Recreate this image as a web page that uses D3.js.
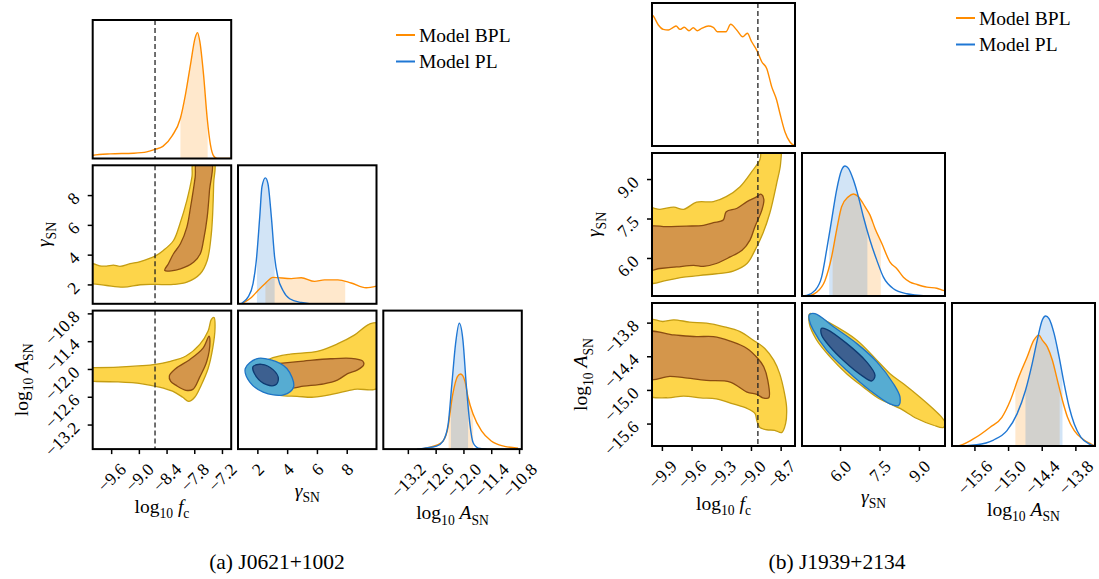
<!DOCTYPE html>
<html><head><meta charset="utf-8">
<script src="https://cdn.jsdelivr.net/npm/d3@7"></script>
<style>body{margin:0;background:#fff}</style>
</head><body><svg id="c" width="1099" height="579" xmlns="http://www.w3.org/2000/svg"></svg>
<script>
// ===================== DATA : J0621+1002 =====================
const A_domFc = [-10.0, -7.0];
const A_domGamma = [0.7, 10.0];
const A_domAmp = [-13.73, -10.74];
const A_ticksFc = [-9.6, -9.0, -8.4, -7.8, -7.2];
const A_ticksGamma = [2, 4, 6, 8];
const A_ticksAmp = [-13.2, -12.6, -12.0, -11.4, -10.8];
const A_fcTrue = -8.65;
// 1D marginals [value, relative density]
const A_fc_BPL = [[-10.0,0.025],[-9.99,0.026],[-9.62,0.037],[-9.12,0.042],[-8.83,0.053],[-8.65,0.072],[-8.48,0.096],[-8.28,0.18],[-8.10,0.32],[-7.99,0.51],[-7.88,0.75],[-7.78,0.96],[-7.73,1.0],[-7.68,0.93],[-7.60,0.67],[-7.52,0.32],[-7.45,0.11],[-7.38,0.02],[-7.30,0.0],[-7.0,0.0]];
const A_fc_BPL_band = [-8.10, -7.51];
const A_gamma_PL = [[0.9,0.0],[1.04,0.013],[1.37,0.053],[1.71,0.16],[1.93,0.345],[2.16,0.69],[2.31,0.93],[2.54,1.0],[2.71,0.955],[2.94,0.69],[3.16,0.37],[3.38,0.21],[3.72,0.106],[4.17,0.04],[4.95,0.01],[5.5,0.0]];
const A_gamma_PL_band = [1.97, 3.16];
const A_gamma_BPL = [[1.04,0.008],[1.6,0.05],[2.04,0.106],[2.51,0.16],[3.05,0.21],[4.28,0.2],[4.95,0.207],[5.84,0.178],[6.51,0.19],[7.41,0.19],[8.3,0.165],[9.31,0.127],[10.0,0.14]];
const A_gamma_BPL_band = [2.54, 7.9];
const A_amp_PL = [[-13.0,0],[-12.84,0.008],[-12.58,0.024],[-12.44,0.064],[-12.33,0.197],[-12.25,0.516],[-12.17,0.836],[-12.09,1.0],[-12.01,0.862],[-11.94,0.516],[-11.86,0.197],[-11.79,0.05],[-11.68,0.008],[-11.5,0]];
const A_amp_PL_band = [-12.27, -11.90];
const A_amp_BPL = [[-13.0,0],[-12.84,0.006],[-12.48,0.05],[-12.35,0.144],[-12.23,0.437],[-12.13,0.575],[-12.06,0.596],[-11.97,0.543],[-11.90,0.41],[-11.79,0.277],[-11.61,0.144],[-11.40,0.064],[-11.11,0.022],[-10.82,0.008]];
const A_amp_BPL_band = [-12.32, -11.79];
// 2D credible contours [x value, y value]
const A_fcGamma_BPL_2s = [[-10.05,3.39],[-9.99,3.39],[-9.85,3.25],[-9.70,3.23],[-9.55,3.3],[-9.41,3.21],[-9.19,3.39],[-8.97,3.54],[-8.65,3.90],[-8.47,4.28],[-8.25,4.95],[-8.11,6.08],[-7.96,7.65],[-7.85,9.22],[-7.81,10.3],[-7.38,10.3],[-7.38,8.77],[-7.43,5.41],[-7.52,3.61],[-7.67,2.72],[-7.96,2.15],[-8.25,2.0],[-8.65,2.0],[-8.97,1.98],[-9.33,1.82],[-9.70,1.93],[-9.99,2.04],[-10.05,2.04]];
const A_fcGamma_BPL_1s = [[-8.44,2.94],[-8.10,3.05],[-7.81,3.50],[-7.67,4.06],[-7.60,4.96],[-7.52,6.52],[-7.47,8.32],[-7.43,10.3],[-7.74,10.3],[-7.78,9.21],[-7.88,7.2],[-7.96,5.85],[-8.10,4.73],[-8.25,4.06],[-8.36,3.39]];
const A_fcAmp_BPL_2s = [[-10.05,-11.97],[-9.97,-11.97],[-9.45,-11.96],[-8.93,-11.93],[-8.64,-11.90],[-8.34,-11.84],[-7.98,-11.72],[-7.68,-11.47],[-7.50,-11.18],[-7.43,-10.93],[-7.37,-10.89],[-7.35,-11.11],[-7.40,-11.55],[-7.50,-11.99],[-7.65,-12.35],[-7.79,-12.61],[-7.92,-12.70],[-8.05,-12.61],[-8.27,-12.48],[-8.56,-12.39],[-8.93,-12.32],[-9.45,-12.28],[-9.97,-12.27],[-10.05,-12.27]];
const A_fcAmp_BPL_1s = [[-8.34,-12.15],[-8.20,-11.99],[-7.90,-11.80],[-7.61,-11.55],[-7.48,-11.29],[-7.46,-11.40],[-7.53,-11.84],[-7.68,-12.17],[-7.83,-12.44],[-7.98,-12.46],[-8.20,-12.35],[-8.31,-12.27]];
const A_gammaAmp_BPL_2s = [[2.28,-11.91],[2.85,-11.78],[4.20,-11.68],[6.02,-11.62],[7.37,-11.46],[8.51,-11.27],[9.53,-11.03],[10.2,-11.02],[10.2,-12.39],[8.51,-12.44],[7.15,-12.54],[5.79,-12.61],[4.66,-12.59],[3.52,-12.57],[2.85,-12.50],[2.39,-12.28]];
const A_gammaAmp_BPL_1s = [[2.62,-11.91],[3.52,-11.88],[5.11,-11.83],[6.92,-11.78],[8.29,-11.77],[9.08,-11.83],[9.14,-11.91],[8.73,-12.02],[8.06,-12.10],[7.37,-12.24],[6.47,-12.32],[5.11,-12.37],[4.20,-12.41],[3.30,-12.28]];
const A_gammaAmp_PL_2s = [[1.19,-11.99],[1.94,-11.78],[2.85,-11.80],[3.98,-11.99],[4.43,-12.39],[3.75,-12.56],[2.39,-12.50],[1.48,-12.28]];
const A_gammaAmp_PL_1s = [[1.71,-11.95],[2.28,-11.90],[3.07,-12.02],[3.41,-12.21],[3.18,-12.35],[2.62,-12.34],[1.94,-12.17]];

// ===================== DATA : J1939+2134 =====================
const B_domFc = [-10.0, -8.555];
const B_domGamma = [4.555, 9.99];
const B_domAmp = [-16.0, -13.45];
const B_ticksFc = [-9.9, -9.6, -9.3, -9.0, -8.7];
const B_ticksGamma = [6.0, 7.5, 9.0];
const B_ticksAmp = [-15.6, -15.0, -14.4, -13.8];
const B_fcTrue = -8.93;
const B_fc_BPL = [[-10.0,1.01],[-9.987,1.0],[-9.936,0.931],[-9.886,0.897],[-9.835,0.892],[-9.785,0.913],[-9.757,0.923],[-9.717,0.897],[-9.674,0.913],[-9.626,0.887],[-9.583,0.910],[-9.542,0.887],[-9.498,0.905],[-9.431,0.923],[-9.381,0.913],[-9.340,0.879],[-9.252,0.879],[-9.205,0.936],[-9.144,0.892],[-9.083,0.840],[-9.037,0.867],[-8.993,0.802],[-8.942,0.738],[-8.891,0.648],[-8.841,0.597],[-8.790,0.455],[-8.740,0.352],[-8.707,0.250],[-8.656,0.108],[-8.606,0.031],[-8.565,0.005]];
const B_gamma_PL = [[4.555,0.0],[4.73,0.004],[5.05,0.043],[5.30,0.145],[5.49,0.352],[5.68,0.583],[5.87,0.815],[6.06,0.969],[6.19,1.0],[6.32,0.982],[6.51,0.892],[6.70,0.763],[6.89,0.608],[7.14,0.429],[7.40,0.274],[7.65,0.145],[8.03,0.056],[8.54,0.017],[9.17,0.002],[10.0,0]];
const B_gamma_PL_band = [5.59, 7.04];
const B_gamma_BPL = [[4.555,0],[4.79,0.002],[5.11,0.029],[5.43,0.12],[5.68,0.30],[5.87,0.506],[6.06,0.687],[6.32,0.764],[6.51,0.785],[6.70,0.764],[6.95,0.687],[7.14,0.622],[7.33,0.52],[7.59,0.404],[7.90,0.261],[8.16,0.21],[8.41,0.145],[8.66,0.107],[8.92,0.089],[9.30,0.068],[9.68,0.06],[9.93,0.043],[10.0,0.04]];
const B_gamma_BPL_band = [5.72, 7.55];
const B_amp_PL = [[-16.0,0],[-15.92,0],[-15.56,0.01],[-15.26,0.046],[-15.02,0.118],[-14.84,0.247],[-14.69,0.427],[-14.57,0.634],[-14.48,0.814],[-14.39,0.969],[-14.33,1.0],[-14.27,0.98],[-14.18,0.866],[-14.09,0.685],[-14.00,0.479],[-13.91,0.298],[-13.82,0.17],[-13.70,0.067],[-13.55,0.015],[-13.45,0]];
const B_amp_PL_band = [-14.69, -14.03];
const B_amp_BPL = [[-16.0,0],[-15.92,0],[-15.62,0.054],[-15.32,0.144],[-15.11,0.221],[-14.96,0.35],[-14.81,0.53],[-14.66,0.685],[-14.54,0.814],[-14.45,0.853],[-14.39,0.814],[-14.30,0.763],[-14.21,0.66],[-14.12,0.505],[-14.03,0.35],[-13.94,0.221],[-13.82,0.118],[-13.67,0.054],[-13.52,0.015],[-13.45,0]];
const B_amp_BPL_band = [-14.87, -14.08];
const B_fcGamma_BPL_2s = [[-10.05,7.89],[-9.92,7.85],[-9.78,7.93],[-9.68,7.85],[-9.55,8.12],[-9.38,8.14],[-9.25,8.33],[-9.11,8.71],[-8.99,9.29],[-8.91,9.73],[-8.88,10.3],[-8.71,10.3],[-8.70,9.61],[-8.74,8.84],[-8.81,7.70],[-8.88,6.93],[-8.96,6.29],[-9.04,5.79],[-9.18,5.50],[-9.35,5.40],[-9.51,5.34],[-9.68,5.27],[-9.85,5.15],[-10.05,5.08]];
const B_fcGamma_BPL_1s = [[-10.05,7.15],[-9.85,7.19],[-9.65,7.21],[-9.48,7.24],[-9.38,7.34],[-9.28,7.44],[-9.25,7.76],[-9.14,7.89],[-9.04,8.14],[-8.94,8.33],[-8.90,8.43],[-8.87,8.23],[-8.89,7.82],[-8.96,7.19],[-9.01,6.68],[-9.09,6.29],[-9.21,6.04],[-9.35,5.79],[-9.48,5.68],[-9.58,5.72],[-9.75,5.66],[-9.92,5.60],[-10.05,5.56]];
const B_fcAmp_BPL_2s = [[-10.05,-13.75],[-9.89,-13.78],[-9.78,-13.75],[-9.62,-13.79],[-9.45,-13.81],[-9.28,-13.87],[-9.11,-13.96],[-8.98,-14.11],[-8.86,-14.26],[-8.77,-14.47],[-8.71,-14.71],[-8.66,-15.07],[-8.64,-15.31],[-8.65,-15.60],[-8.69,-15.76],[-8.76,-15.72],[-8.84,-15.71],[-8.91,-15.67],[-8.94,-15.55],[-8.96,-15.42],[-9.04,-15.33],[-9.18,-15.25],[-9.35,-15.16],[-9.51,-15.14],[-9.68,-15.11],[-9.85,-15.14],[-10.05,-15.08]];
const B_fcAmp_BPL_1s = [[-10.05,-13.98],[-9.78,-14.02],[-9.55,-14.05],[-9.38,-14.05],[-9.21,-14.13],[-9.04,-14.26],[-8.93,-14.44],[-8.87,-14.59],[-8.83,-14.83],[-8.82,-15.14],[-8.88,-15.14],[-8.94,-15.08],[-9.04,-15.04],[-9.21,-14.86],[-9.45,-14.83],[-9.68,-14.78],[-9.82,-14.76],[-10.05,-14.80]];
const B_gammaAmp_BPL_2s = [[4.86,-13.64],[5.62,-13.81],[6.63,-14.11],[7.40,-14.47],[7.90,-14.71],[8.41,-14.89],[9.04,-15.13],[9.55,-15.34],[9.87,-15.49],[9.99,-15.58],[9.93,-15.67],[9.55,-15.63],[8.92,-15.51],[8.28,-15.33],[7.90,-15.25],[7.40,-15.13],[6.89,-14.95],[6.25,-14.71],[5.62,-14.41],[5.11,-14.11],[4.83,-13.81]];
const B_gammaAmp_PL_2s = [[4.83,-13.66],[5.05,-13.64],[5.74,-13.87],[6.63,-14.17],[7.40,-14.50],[8.03,-14.89],[8.28,-15.13],[8.22,-15.28],[7.90,-15.25],[7.14,-15.01],[6.25,-14.65],[5.49,-14.29],[4.98,-13.93],[4.83,-13.75]];
const B_gammaAmp_PL_1s = [[5.30,-13.90],[5.49,-13.92],[6.25,-14.17],[7.01,-14.50],[7.33,-14.74],[7.21,-14.84],[6.82,-14.74],[6.12,-14.47],[5.62,-14.23],[5.30,-14.02]];

const seriesNames = ["Model BPL", "Model PL"];
const captions = ["(a) J0621+1002", "(b) J1939+2134"];

// ===================== STYLE =====================
const FONT = '"Liberation Serif","Times New Roman",serif';
const ORANGE = "#ff8c00", BLUE = "#1f77d4";
const BPL_STYLE = {outerFill:"#fdd54a", outerStroke:"#c49d12", innerFill:"#d4964b", innerStroke:"#8a4c12"};
const PL_STYLE = {outerFill:"#56acd2", outerStroke:"#1e74c6", innerFill:"#3d6090", innerStroke:"#0e3a72"};
const TICK_FS = 17.5, LABEL_FS = 19.5;

const svg = d3.select("#c");
svg.append("rect").attr("width",1099).attr("height",579).attr("fill","#fff");
const defs = svg.append("defs");
let clipN = 0;
function clip(x,y,w,h){ const id="cl"+(clipN++); defs.append("clipPath").attr("id",id).append("rect").attr("x",x).attr("y",y).attr("width",w).attr("height",h); return `url(#${id})`; }

function rich(sel, parts, size){
  let cur = 0;
  parts.forEach(p=>{
    const want = p.s ? size*0.28 : 0;
    const ts = sel.append("tspan").text(p.t).attr("dy", want-cur);
    cur = want;
    if (p.i) ts.attr("font-style","italic");
    ts.attr("font-size", p.s ? size*0.7 : size);
  });
}
const LBL = [
  [{t:"log"},{t:"10",s:1},{t:" "},{t:"f",i:1},{t:"c",s:1}],
  [{t:"γ",i:1},{t:"SN",s:1}],
  [{t:"log"},{t:"10",s:1},{t:" "},{t:"A",i:1},{t:"SN",s:1}]
];

function drawFigure(fig){
  const {x0,y0,size,step} = fig.layout;
  const sX = fig.domains.map((d,i)=>d3.scaleLinear().domain(d).range([x0+i*step, x0+i*step+size]));
  const sY = fig.domains.map((d,i)=>d3.scaleLinear().domain(d).range([y0+i*step+size, y0+i*step]));
  for (let r=0;r<3;r++) for (let c=0;c<=r;c++){
    const px=x0+c*step, py=y0+r*step;
    const g = svg.append("g");
    const content = g.append("g").attr("clip-path", clip(px,py,size,size));
    const sx = sX[c];
    if (r===c){
      const sy = d3.scaleLinear().domain([0,1.1]).range([py+size, py]);
      const line = d3.line().x(d=>sx(d[0])).y(d=>sy(d[1])).curve(d3.curveMonotoneX);
      const area = d3.area().x(d=>sx(d[0])).y0(sy(0)).y1(d=>sy(d[1])).curve(d3.curveMonotoneX);
      fig.diag[r].forEach(s=>{
        if (s.band){
          content.append("g").attr("clip-path", clip(sx(s.band[0]), py, sx(s.band[1])-sx(s.band[0]), size))
            .append("path").datum(s.data).attr("d",area).attr("fill",s.color).attr("fill-opacity",0.2);
        }
      });
      fig.diag[r].forEach(s=>{
        content.append("path").datum(s.data).attr("d",line).attr("fill","none").attr("stroke",s.color).attr("stroke-width",1.4);
      });
    } else {
      const sy = sY[r];
      const cl = d3.line().x(d=>sx(d[0])).y(d=>sy(d[1])).curve(d3.curveCatmullRomClosed.alpha(0.5));
      fig.off[r+","+c].forEach(s=>{
        content.append("path").datum(s.data).attr("d",cl).attr("fill",s.fill).attr("stroke",s.stroke).attr("stroke-width",1.3);
      });
    }
    if (c===0){
      content.append("line").attr("x1",sx(fig.truth)).attr("x2",sx(fig.truth)).attr("y1",py).attr("y2",py+size)
        .attr("stroke","#222").attr("stroke-width",1.3).attr("stroke-dasharray","5,3");
    }
    g.append("rect").attr("x",px).attr("y",py).attr("width",size).attr("height",size).attr("fill","none").attr("stroke","#000").attr("stroke-width",2);
    if (r===2){
      const ax = d3.axisBottom(sx).tickValues(fig.ticks[c]).tickSize(5).tickSizeOuter(0).tickFormat(d3.format(fig.fmts[c]));
      const a = g.append("g").attr("transform",`translate(0,${py+size})`).call(ax);
      a.attr("font-family",FONT).attr("font-size",TICK_FS);
      a.select(".domain").remove();
      a.selectAll(".tick line").attr("stroke","#000").attr("stroke-width",1.5);
      a.selectAll(".tick text").each(function(){
        const t=d3.select(this).attr("dy",null).attr("fill","#000").attr("text-anchor","middle").attr("dominant-baseline","central");
        const L=this.getComputedTextLength();
        const cy = 13 + 0.707*(L+12)/2;
        t.attr("x",0).attr("y",cy).attr("transform",`rotate(-45,0,${cy})`);
      });
      const bb = a.node().getBBox();
      const lt = g.append("text").attr("x",px+size/2).attr("y",py+size+bb.y+bb.height+17)
        .attr("text-anchor","middle").attr("font-family",FONT).attr("fill","#000");
      rich(lt, LBL[c], LABEL_FS);
    }
    if (c===0 && r>0){
      const sy = sY[r];
      const ax = d3.axisLeft(sy).tickValues(fig.ticks[r]).tickSize(5).tickSizeOuter(0).tickFormat(d3.format(fig.fmts[r]));
      const a = g.append("g").attr("transform",`translate(${px},0)`).call(ax);
      a.attr("font-family",FONT).attr("font-size",TICK_FS);
      a.select(".domain").remove();
      a.selectAll(".tick line").attr("stroke","#000").attr("stroke-width",1.5);
      a.selectAll(".tick text").attr("dy",null).attr("fill","#000").attr("text-anchor","end")
        .attr("x",-12).attr("y",4).attr("transform","rotate(-45,-12,4)");
      const bb = a.node().getBBox();
      const xx = px + bb.x - 13, yy = py+size/2;
      const lt = g.append("text").attr("transform",`translate(${xx},${yy}) rotate(-90)`)
        .attr("text-anchor","middle").attr("font-family",FONT).attr("fill","#000");
      rich(lt, LBL[r], LABEL_FS);
    }
  }
  // legend
  const lg = svg.append("g").attr("font-family",FONT).attr("font-size",LABEL_FS);
  [ORANGE, BLUE].forEach((col,i)=>{
    const y = fig.legend.y + i*26.5;
    lg.append("line").attr("x1",fig.legend.x).attr("x2",fig.legend.x+19).attr("y1",y).attr("y2",y).attr("stroke",col).attr("stroke-width",2);
    lg.append("text").attr("x",fig.legend.x+23).attr("y",y).attr("dominant-baseline","central").attr("fill","#000").text(seriesNames[i]);
  });
  svg.append("text").attr("x",fig.caption.x).attr("y",fig.caption.y).attr("text-anchor","middle")
    .attr("font-family",FONT).attr("font-size",21.5).attr("fill","#000").text(fig.caption.t);
}

const figA = {
  layout:{x0:92.7, y0:20, size:138.5, step:145.3},
  domains:[A_domFc, A_domGamma, A_domAmp],
  ticks:[A_ticksFc, A_ticksGamma, A_ticksAmp],
  fmts:[".1f","d",".1f"],
  truth:A_fcTrue,
  diag:[
    [{data:A_fc_BPL, band:A_fc_BPL_band, color:ORANGE}],
    [{data:A_gamma_BPL, band:A_gamma_BPL_band, color:ORANGE},{data:A_gamma_PL, band:A_gamma_PL_band, color:BLUE}],
    [{data:A_amp_BPL, band:A_amp_BPL_band, color:ORANGE},{data:A_amp_PL, band:A_amp_PL_band, color:BLUE}]
  ],
  off:{
    "1,0":[{data:A_fcGamma_BPL_2s, fill:BPL_STYLE.outerFill, stroke:BPL_STYLE.outerStroke},{data:A_fcGamma_BPL_1s, fill:BPL_STYLE.innerFill, stroke:BPL_STYLE.innerStroke}],
    "2,0":[{data:A_fcAmp_BPL_2s, fill:BPL_STYLE.outerFill, stroke:BPL_STYLE.outerStroke},{data:A_fcAmp_BPL_1s, fill:BPL_STYLE.innerFill, stroke:BPL_STYLE.innerStroke}],
    "2,1":[{data:A_gammaAmp_BPL_2s, fill:BPL_STYLE.outerFill, stroke:BPL_STYLE.outerStroke},{data:A_gammaAmp_BPL_1s, fill:BPL_STYLE.innerFill, stroke:BPL_STYLE.innerStroke},
           {data:A_gammaAmp_PL_2s, fill:PL_STYLE.outerFill, stroke:PL_STYLE.outerStroke},{data:A_gammaAmp_PL_1s, fill:PL_STYLE.innerFill, stroke:PL_STYLE.innerStroke}]
  },
  legend:{x:396, y:35},
  caption:{x:277, y:569, t:captions[0]}
};
const figB = {
  layout:{x0:652, y0:3, size:143, step:150},
  domains:[B_domFc, B_domGamma, B_domAmp],
  ticks:[B_ticksFc, B_ticksGamma, B_ticksAmp],
  fmts:[".1f",".1f",".1f"],
  truth:B_fcTrue,
  diag:[
    [{data:B_fc_BPL, band:null, color:ORANGE}],
    [{data:B_gamma_BPL, band:B_gamma_BPL_band, color:ORANGE},{data:B_gamma_PL, band:B_gamma_PL_band, color:BLUE}],
    [{data:B_amp_BPL, band:B_amp_BPL_band, color:ORANGE},{data:B_amp_PL, band:B_amp_PL_band, color:BLUE}]
  ],
  off:{
    "1,0":[{data:B_fcGamma_BPL_2s, fill:BPL_STYLE.outerFill, stroke:BPL_STYLE.outerStroke},{data:B_fcGamma_BPL_1s, fill:BPL_STYLE.innerFill, stroke:BPL_STYLE.innerStroke}],
    "2,0":[{data:B_fcAmp_BPL_2s, fill:BPL_STYLE.outerFill, stroke:BPL_STYLE.outerStroke},{data:B_fcAmp_BPL_1s, fill:BPL_STYLE.innerFill, stroke:BPL_STYLE.innerStroke}],
    "2,1":[{data:B_gammaAmp_BPL_2s, fill:BPL_STYLE.outerFill, stroke:BPL_STYLE.outerStroke},
           {data:B_gammaAmp_PL_2s, fill:PL_STYLE.outerFill, stroke:PL_STYLE.outerStroke},{data:B_gammaAmp_PL_1s, fill:PL_STYLE.innerFill, stroke:PL_STYLE.innerStroke}]
  },
  legend:{x:956, y:18},
  caption:{x:837, y:569, t:captions[1]}
};
drawFigure(figA);
drawFigure(figB);
</script></body></html>
